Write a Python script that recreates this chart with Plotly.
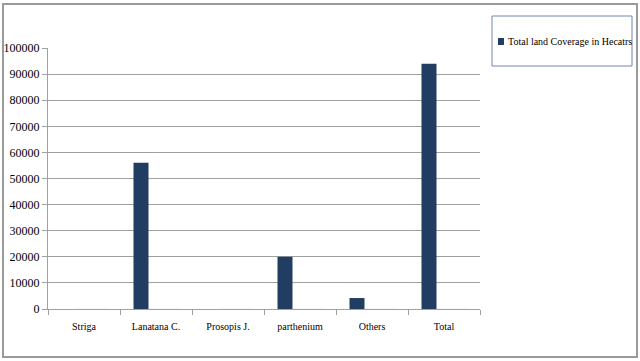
import plotly.graph_objects as go

categories = ["Striga", "Lanatana C.", "Prosopis J.", "parthenium", "Others", "Total"]
coverage = [0, 56000, 0, 20000, 4200, 94000]
series_b = [0, 0, 0, 0, 0, 0]
series_c = [0, 0, 0, 0, 0, 0]
y_ticks = [0, 10000, 20000, 30000, 40000, 50000, 60000, 70000, 80000, 90000, 100000]
legend_label = "Total land Coverage in Hecatrs"

W, H = 640, 361
L, R, T, B = 48, 160, 48, 52
pw, ph = W - L - R, H - T - B

def px(x):
    return (x - L) / pw

def py(y):
    return (H - B - y) / ph

font = "Liberation Serif, Times New Roman, serif"
bar_color = "#223D62"

fig = go.Figure()
fig.add_trace(go.Bar(x=categories, y=coverage, name=legend_label,
                     marker=dict(color=bar_color, line=dict(width=0))))
fig.add_trace(go.Bar(x=categories, y=series_b, name="b",
                     marker=dict(color="#C0504D")))
fig.add_trace(go.Bar(x=categories, y=series_c, name="c",
                     marker=dict(color="#9BBB59")))

fig.update_layout(
    width=W, height=H,
    margin=dict(l=L, r=R, t=T, b=B, autoexpand=False),
    paper_bgcolor="white", plot_bgcolor="white",
    barmode="group", bargap=0.375, bargroupgap=0,
    font=dict(family=font, size=11, color="#000000"),
    showlegend=False,
    xaxis=dict(showline=True, linecolor="#A0A0A0", linewidth=1,
               ticks="outside", tickson="boundaries", ticklen=5, tickcolor="#A0A0A0",
               showgrid=False, tickfont=dict(size=10), ticklabelstandoff=8,
               fixedrange=True),
    yaxis=dict(range=[0, 100000], tickvals=y_ticks, ticktext=[str(v) for v in y_ticks],
               showline=True, linecolor="#A0A0A0", linewidth=1,
               ticks="outside", ticklen=5, tickcolor="#A0A0A0",
               showgrid=True, gridcolor="#A0A0A0", gridwidth=1,
               zeroline=False, tickfont=dict(size=12), fixedrange=True),
    shapes=[
        dict(type="rect", xref="paper", yref="paper",
             x0=px(3), x1=px(637), y0=py(357), y1=py(4),
             line=dict(color="#9A9A9A", width=2)),
        dict(type="rect", xref="paper", yref="paper",
             x0=px(492), x1=px(632), y0=py(66), y1=py(16),
             line=dict(color="#6F86B0", width=1)),
        dict(type="rect", xref="paper", yref="paper",
             x0=px(498), x1=px(504), y0=py(45), y1=py(38),
             fillcolor=bar_color, line=dict(width=0)),
    ],
    annotations=[
        dict(text=legend_label, xref="paper", yref="paper",
             x=px(505.5), y=py(41.5), xanchor="left", yanchor="middle",
             showarrow=False, font=dict(family=font, size=10, color="#000000")),
    ],
)

fig.write_html("out.html", config={"displayModeBar": False},
               post_script="document.body.style.margin='0px';")
